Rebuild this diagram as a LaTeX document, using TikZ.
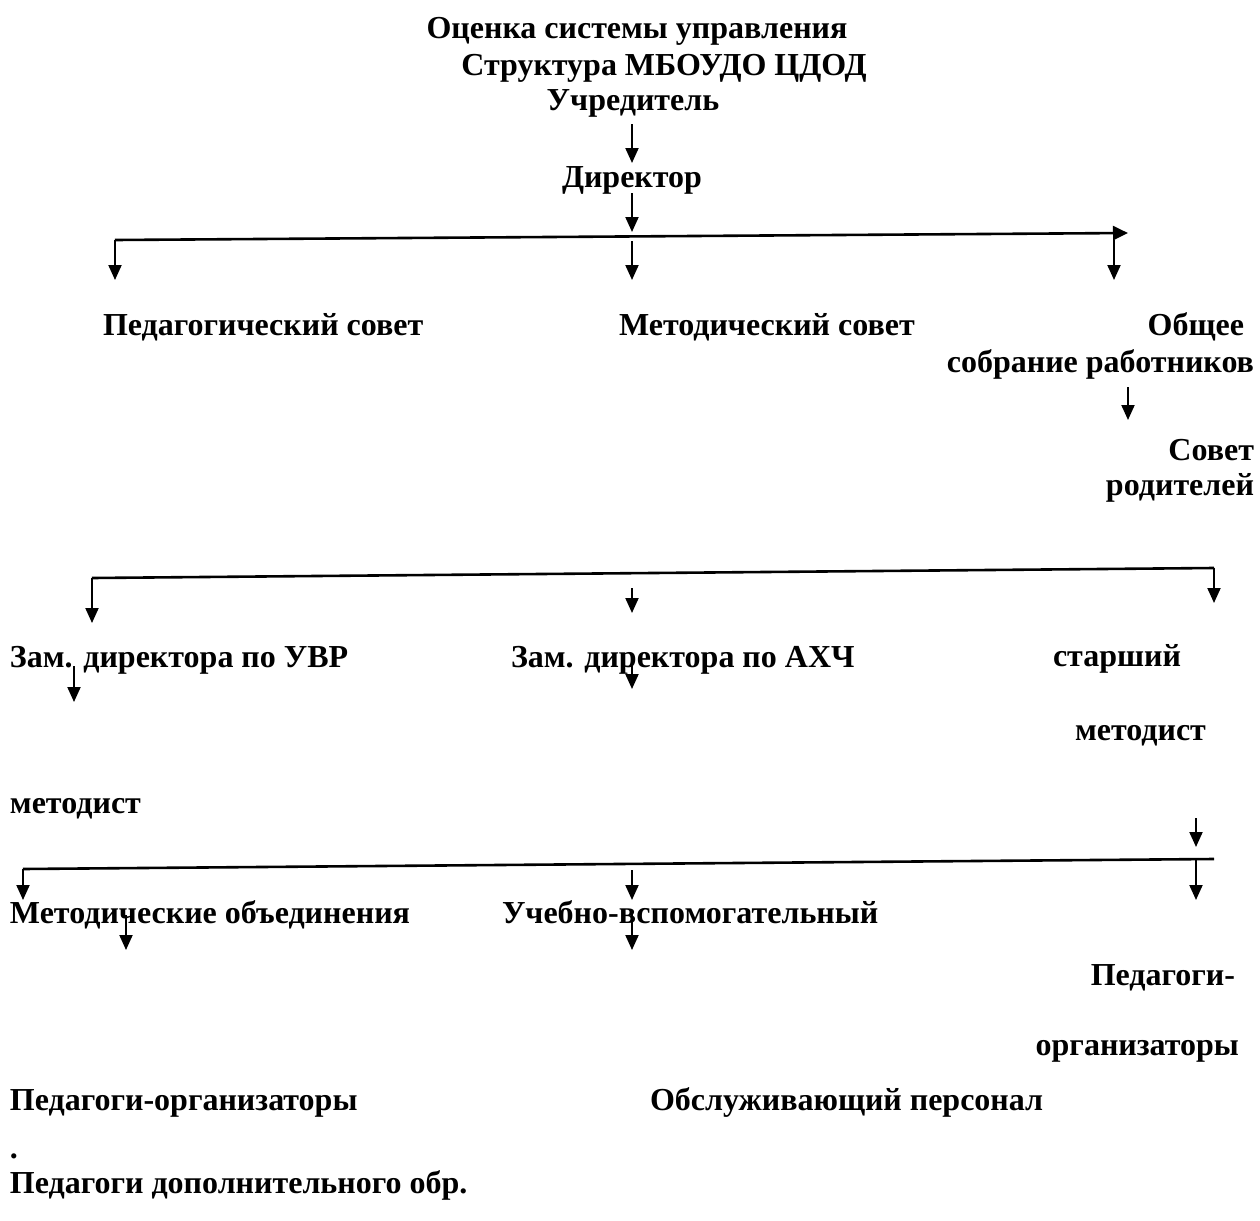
\documentclass[tikz,border=0pt]{standalone}
\usepackage{fontspec}
\setmainfont{Liberation Serif}
\usepackage{tikz}
\usetikzlibrary{positioning, arrows, arrows.meta}

\tikzset{
  lbl/.style={inner sep=0pt, outer sep=0pt, font=\fontsize{16}{19}\selectfont\bfseries},
  arr/.style={-{Triangle[length=7.5pt,width=6.5pt]}, line width=1pt},
  bar/.style={line width=1.3pt},
}

\begin{document}
\begin{tikzpicture}[x=0.5pt, y=-0.5pt]
\useasboundingbox (0,0) rectangle (1260,1221);

% --- heading ---
\node[lbl, anchor=base] (title) at (637,38) {Оценка системы управления};
\node[lbl, anchor=base] (struct) at (664,75) {Структура МБОУДО ЦДОД};
\node[lbl, anchor=base] (uchr) at (633,110) {Учредитель};
\node[lbl, anchor=base] (dir) at (632,187) {Директор};

% --- councils ---
\node[lbl, anchor=base west] (pedsov) at (103,335) {Педагогический совет};
\node[lbl, anchor=base west] (metsov) at (619,335) {Методический совет};
\node[lbl, anchor=base east] (obsh) at (1244,335) {Общее};
\node[lbl, anchor=base east] (sobr) at (1254,372) {собрание работников};
\node[lbl, anchor=base east] (sovet) at (1254,460) {Совет};
\node[lbl, anchor=base east] (rodit) at (1254,495) {родителей};

% --- deputies ---
\node[lbl, anchor=base west] (zamuvr) at (10,667) {Зам. директора по УВР};
\node[lbl, anchor=base west] (zamahch) at (511,667) {Зам. директора по АХЧ};
\node[lbl, anchor=base west] (starsh) at (1053,666) {старший};
\node[lbl, anchor=base west] (stmetod) at (1075,740) {методист};
\node[lbl, anchor=base west] (metod) at (10,813) {методист};

% --- staff ---
\node[lbl, anchor=base west] (metob) at (10,923) {Методические объединения};
\node[lbl, anchor=base west] (uchvsp) at (502,923) {Учебно-вспомогательный};
\node[lbl, anchor=base east] (pedorgA) at (1235,985) {Педагоги-};
\node[lbl, anchor=base east] (pedorgB) at (1239,1055) {организаторы};
\node[lbl, anchor=base west] (pedorg) at (10,1110) {Педагоги-организаторы};
\node[lbl, anchor=base west] (obsl) at (650,1110) {Обслуживающий персонал};
\node[lbl, anchor=base west] (dot) at (10,1158) {.};
\node[lbl, anchor=base west] (peddop) at (10,1193) {Педагоги дополнительного обр.};

% --- branch lines ---
\coordinate (barAl) at (115,240);
\coordinate (barAr) at (1128,233);
\coordinate (barBl) at (92,578);
\coordinate (barBr) at (1214,568);
\coordinate (barCl) at (23,869);
\coordinate (barCr) at (1214,859);
\draw[bar, -{Triangle[length=7.5pt,width=7pt]}] (barAl) -- (barAr);
\draw[bar] (barBl) -- (barBr);
\draw[bar] (barCl) -- (barCr);

% --- down arrows ---
\foreach \n/\xx/\ya/\yb in {a/632/124/163, b/632/193/232, c/632/241/280,
  d/115/240/280, e/1114/240/280, f/1128/387/420, g/92/578/623, h/632/588/613,
  i/1214/568/603, j/74/666/702, k/632/660/689, l/1196/818/847, m/23/869/900,
  n/632/870/900, o/1196/860/900, p/126/915/950, q/632/913/950}{
\coordinate (s\n) at (\xx,\ya);
\coordinate (t\n) at (\xx,\yb);
\draw[arr] (s\n) -- (t\n);
}
\end{tikzpicture}
\end{document}
